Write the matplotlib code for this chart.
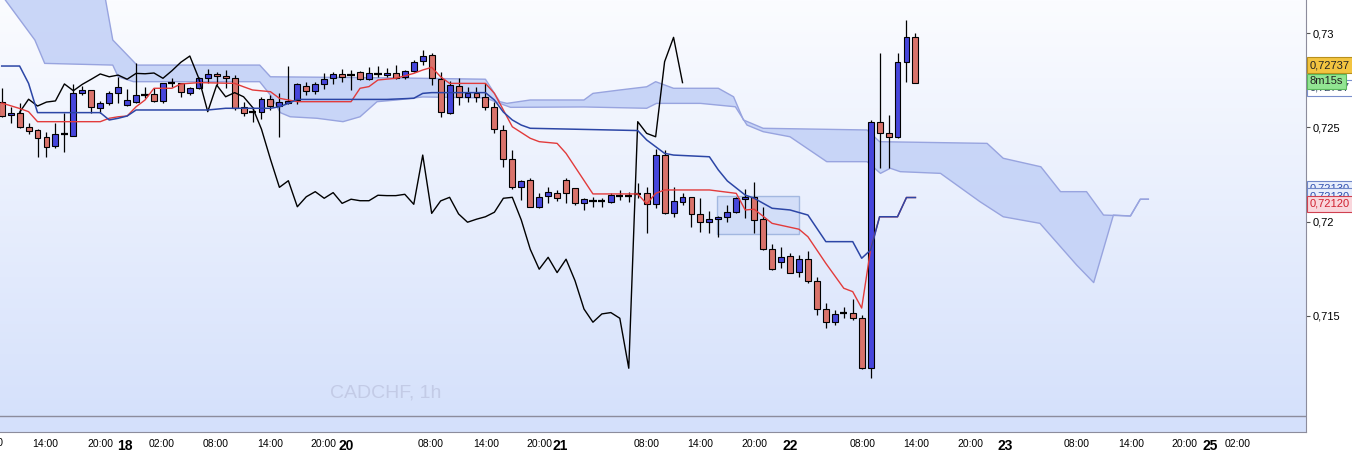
import numpy as np
import matplotlib
matplotlib.use("Agg")
import matplotlib.pyplot as plt
from matplotlib.colors import LinearSegmentedColormap
from matplotlib.patches import Rectangle

plt.rcParams['font.family'] = ['Liberation Sans', 'DejaVu Sans']

symbol = "CADCHF, 1h"

# hourly candles, oldest first
opens = [0.72634, 0.72564, 0.72574, 0.72500, 0.72486, 0.72450, 0.72401, 0.72465, 0.72456, 0.72680,
         0.72698, 0.72601, 0.72627, 0.72680, 0.72617, 0.72636, 0.72671, 0.72677, 0.72641, 0.72733,
         0.72733, 0.72684, 0.72707, 0.72760, 0.72783, 0.72772, 0.72760, 0.72609, 0.72580, 0.72580,
         0.72649, 0.72613, 0.72627, 0.72645, 0.72721, 0.72694, 0.72728, 0.72760, 0.72783, 0.72777,
         0.72795, 0.72755, 0.72784, 0.72776, 0.72788, 0.72765, 0.72800, 0.72852, 0.72883, 0.72755,
         0.72578, 0.72719, 0.72662, 0.72684, 0.72659, 0.72606, 0.72486, 0.72331, 0.72185, 0.72221,
         0.72076, 0.72138, 0.72154, 0.72221, 0.72177, 0.72097, 0.72111, 0.72111, 0.72103, 0.72138,
         0.72138, 0.72145, 0.72150, 0.72092, 0.72353, 0.72044, 0.72106, 0.72129, 0.72041, 0.71997,
         0.72013, 0.72026, 0.72053, 0.72120, 0.72129, 0.72013, 0.71854, 0.71785, 0.71818, 0.71732,
         0.71801, 0.71687, 0.71536, 0.71470, 0.71518, 0.71518, 0.71488, 0.71223, 0.72530, 0.72468,
         0.72447, 0.72848, 0.72977]
highs = [0.72709, 0.72609, 0.72629, 0.72521, 0.72490, 0.72477, 0.72521, 0.72578, 0.72730, 0.72719,
         0.72700, 0.72641, 0.72694, 0.72768, 0.72702, 0.72843, 0.72715, 0.72707, 0.72737, 0.72760,
         0.72737, 0.72715, 0.72768, 0.72808, 0.72795, 0.72804, 0.72777, 0.72636, 0.72609, 0.72662,
         0.72671, 0.72680, 0.72825, 0.72733, 0.72742, 0.72742, 0.72786, 0.72795, 0.72808, 0.72804,
         0.72798, 0.72821, 0.72825, 0.72813, 0.72830, 0.72804, 0.72857, 0.72910, 0.72892, 0.72795,
         0.72747, 0.72760, 0.72715, 0.72715, 0.72733, 0.72636, 0.72512, 0.72380, 0.72221, 0.72230,
         0.72150, 0.72182, 0.72168, 0.72230, 0.72180, 0.72124, 0.72132, 0.72124, 0.72150, 0.72168,
         0.72159, 0.72203, 0.72185, 0.72384, 0.72380, 0.72185, 0.72150, 0.72131, 0.72124, 0.72058,
         0.72028, 0.72088, 0.72132, 0.72172, 0.72212, 0.72079, 0.71882, 0.71864, 0.71836, 0.71823,
         0.71845, 0.71708, 0.71567, 0.71532, 0.71549, 0.71589, 0.71505, 0.72539, 0.72892, 0.72565,
         0.72892, 0.73069, 0.72998]
lows = [0.72555, 0.72521, 0.72497, 0.72463, 0.72341, 0.72341, 0.72389, 0.72371, 0.72454, 0.72671,
        0.72578, 0.72574, 0.72618, 0.72627, 0.72615, 0.72627, 0.72654, 0.72636, 0.72627, 0.72715,
        0.72662, 0.72671, 0.72702, 0.72733, 0.72724, 0.72707, 0.72592, 0.72560, 0.72530, 0.72543,
        0.72592, 0.72449, 0.72624, 0.72624, 0.72671, 0.72677, 0.72702, 0.72730, 0.72742, 0.72698,
        0.72751, 0.72751, 0.72768, 0.72768, 0.72755, 0.72755, 0.72795, 0.72830, 0.72724, 0.72556,
        0.72571, 0.72618, 0.72636, 0.72636, 0.72592, 0.72468, 0.72291, 0.72172, 0.72115, 0.72076,
        0.72071, 0.72097, 0.72111, 0.72097, 0.72088, 0.72062, 0.72079, 0.72079, 0.72097, 0.72115,
        0.72106, 0.72124, 0.71942, 0.72071, 0.72042, 0.72023, 0.72088, 0.71973, 0.71947, 0.71942,
        0.71920, 0.72000, 0.72048, 0.72018, 0.71938, 0.71852, 0.71746, 0.71753, 0.71726, 0.71708,
        0.71677, 0.71505, 0.71435, 0.71452, 0.71488, 0.71479, 0.71220, 0.71170, 0.72283, 0.72283,
        0.72445, 0.72742, 0.72733]
closes = [0.72560, 0.72578, 0.72500, 0.72482, 0.72445, 0.72397, 0.72463, 0.72465, 0.72680, 0.72698,
          0.72609, 0.72627, 0.72680, 0.72715, 0.72645, 0.72670, 0.72671, 0.72641, 0.72733, 0.72733,
          0.72686, 0.72707, 0.72760, 0.72783, 0.72772, 0.72760, 0.72601, 0.72578, 0.72580, 0.72649,
          0.72613, 0.72634, 0.72640, 0.72730, 0.72694, 0.72728, 0.72755, 0.72783, 0.72768, 0.72777,
          0.72755, 0.72786, 0.72784, 0.72788, 0.72760, 0.72800, 0.72845, 0.72878, 0.72760, 0.72583,
          0.72724, 0.72662, 0.72684, 0.72662, 0.72606, 0.72490, 0.72331, 0.72182, 0.72217, 0.72079,
          0.72132, 0.72159, 0.72124, 0.72154, 0.72097, 0.72119, 0.72111, 0.72111, 0.72140, 0.72138,
          0.72138, 0.72145, 0.72092, 0.72353, 0.72044, 0.72110, 0.72129, 0.72041, 0.71997, 0.72013,
          0.72026, 0.72050, 0.72124, 0.72129, 0.72009, 0.71854, 0.71748, 0.71811, 0.71730, 0.71801,
          0.71687, 0.71537, 0.71467, 0.71511, 0.71518, 0.71488, 0.71223, 0.72530, 0.72468, 0.72450,
          0.72848, 0.72977, 0.72737]

# ichimoku lines (bar index, price)
tenkan_x = [0, 2, 3, 4, 11, 12, 13, 14, 15, 16, 17, 19, 20, 22, 26, 27, 28, 30, 31, 32,
            33, 39, 40, 41, 42, 44, 46, 47, 48, 49, 50, 54, 55, 56, 57, 59, 60, 62, 63, 66,
            71, 72, 73, 74, 79, 82, 83, 84, 86, 89, 90, 92, 94, 95, 96, 97, 98, 100, 101, 102]
tenkan = [0.72629, 0.72600, 0.72583, 0.72530, 0.72530, 0.72548, 0.72556, 0.72560, 0.72609, 0.72645,
          0.72707, 0.72707, 0.72730, 0.72737, 0.72733, 0.72715, 0.72698, 0.72689, 0.72654, 0.72645,
          0.72636, 0.72636, 0.72707, 0.72716, 0.72751, 0.72760, 0.72786, 0.72804, 0.72818, 0.72768,
          0.72733, 0.72733, 0.72680, 0.72592, 0.72503, 0.72442, 0.72424, 0.72415, 0.72362, 0.72147,
          0.72147, 0.72094, 0.72150, 0.72168, 0.72168, 0.72150, 0.72062, 0.72066, 0.71991, 0.71960,
          0.71920, 0.71779, 0.71647, 0.71629, 0.71542, 0.71855, 0.72026, 0.72026, 0.72128, 0.72128]

kijun_x = [0, 2, 3, 4, 11, 12, 13, 14, 15, 23, 25, 30, 31, 32, 33, 43, 46, 47, 48, 54,
           55, 56, 57, 58, 59, 65, 71, 72, 74, 75, 79, 80, 81, 83, 84, 86, 88, 90, 92, 95,
           96, 97, 98, 100, 101, 102]
kijun = [0.72825, 0.72825, 0.72733, 0.72578, 0.72578, 0.72539, 0.72548, 0.72560, 0.72592, 0.72592,
         0.72601, 0.72601, 0.72609, 0.72627, 0.72648, 0.72648, 0.72654, 0.72680, 0.72684, 0.72684,
         0.72645, 0.72581, 0.72539, 0.72512, 0.72495, 0.72489, 0.72483, 0.72433, 0.72362, 0.72353,
         0.72344, 0.72274, 0.72216, 0.72141, 0.72124, 0.72071, 0.72062, 0.72035, 0.71894, 0.71894,
         0.71806, 0.71850, 0.72026, 0.72026, 0.72128, 0.72128]

cloud_up_x = [0, 11.3, 11.5, 12.4, 15.1, 28.8, 30.0, 44, 54, 55.6, 56.4, 59, 65, 66, 69, 72, 73,
              75, 80, 81.7, 82.8, 85, 96.6, 98, 110, 111.8, 116, 118.2, 121.1, 123, 126, 127.1, 128]
cloud_up = [0.73387, 0.73387, 0.73201, 0.72963, 0.72830, 0.72830, 0.72768, 0.72762, 0.72755, 0.72636,
            0.72627, 0.72645, 0.72645, 0.72680, 0.72698, 0.72715, 0.72742, 0.72707, 0.72707, 0.72662,
            0.72539, 0.72495, 0.72486, 0.72424, 0.72415, 0.72336, 0.72291, 0.72159, 0.72159, 0.72035,
            0.72030, 0.72119, 0.72119]
cloud_lo_x = [0, 3.7, 4.8, 12.4, 13, 14.7, 28.8, 30, 31.1, 32.2, 35.2, 38.1, 40, 41.9, 44.1, 47,
              54, 55.6, 56.8, 65, 72, 73.1, 78, 81.9, 83.2, 85, 88, 92.1, 96.6, 98.1, 99.2, 100.3,
              104.8, 109.2, 111.8, 115.9, 120, 121.9, 124.1, 126, 127.1, 128]
cloud_lo = [0.73201, 0.72963, 0.72839, 0.72830, 0.72768, 0.72742, 0.72742, 0.72671, 0.72578, 0.72556,
            0.72548, 0.72530, 0.72556, 0.72636, 0.72645, 0.72661, 0.72656, 0.72627, 0.72606, 0.72608,
            0.72601, 0.72627, 0.72627, 0.72609, 0.72512, 0.72477, 0.72450, 0.72318, 0.72318, 0.72256,
            0.72283, 0.72265, 0.72256, 0.72106, 0.72026, 0.71991, 0.71770, 0.71677, 0.72035, 0.72030,
            0.72119, 0.72119]

# chikou = close shifted back 26 bars, drawn from bar 2
lag = 26
chikou_start = 2

# highlighted box (bar range, price range)
box_x = [79.8, 89.05]
box_y = [0.71933, 0.72136]

# time axis labels
tick_pos = [4.83, 10.97, 13.77, 17.9, 23.9, 29.95, 35.9, 38.4, 47.9, 54.1, 60.0, 62.4, 72.0,
            77.96, 84.0, 88.0, 96.05, 102.07, 108.1, 112.0, 120.0, 126.1, 132.0, 134.9, 138.0]
tick_text = ["14:00", "20:00", "18", "02:00", "08:00", "14:00", "20:00", "20", "08:00", "14:00",
             "20:00", "21", "08:00", "14:00", "20:00", "22", "08:00", "14:00", "20:00", "23",
             "08:00", "14:00", "20:00", "25", "02:00"]

price_ticks = [0.715, 0.72, 0.725, 0.73]
price_tick_text = ["0,715", "0,72", "0,725", "0,73"]

fig = plt.figure(figsize=(13.52, 4.51), dpi=100)
ax = fig.add_axes([0, 19 / 451, 1306 / 1352, 432 / 451])

bg = LinearSegmentedColormap.from_list("bg", ["#fbfcff", "#d4e0fb"])
ax.imshow(np.linspace(0, 1, 256).reshape(-1, 1), cmap=bg, aspect="auto",
          extent=[0, 1, 0, 1], transform=ax.transAxes, origin="upper", zorder=0)

# cloud
ax.fill(np.concatenate([cloud_up_x, cloud_lo_x[::-1]]),
        np.concatenate([cloud_up, cloud_lo[::-1]]),
        color="#c4d2f7", alpha=0.9, lw=0, zorder=1)
ax.plot(cloud_up_x, cloud_up, color="#98a4df", lw=1, zorder=1.2)
ax.plot(cloud_lo_x, cloud_lo, color="#98a4df", lw=1, zorder=1.2)

ax.add_patch(Rectangle((box_x[0], box_y[0]), box_x[1] - box_x[0], box_y[1] - box_y[0],
                       facecolor="#c5d4f6", alpha=0.6, edgecolor="#7d9ad0", lw=1, zorder=1.5))

ax.text(0.295, 0.090, symbol, transform=ax.transAxes, ha="center", va="center",
        fontsize=14, color="#c3cbe6", zorder=1)

# candles
o, h, l, c = map(np.array, (opens, highs, lows, closes))
x = np.arange(len(o))
up = c > o
dn = c < o
flat = c == o
ax.vlines(x, l, h, color="black", lw=0.9, zorder=2)
ax.bar(x[up], (c - o)[up], bottom=o[up], width=0.66, color="#4646dc",
       edgecolor="black", lw=0.8, zorder=3)
ax.bar(x[dn], (o - c)[dn], bottom=c[dn], width=0.66, color="#d9736b",
       edgecolor="black", lw=0.8, zorder=3)
ax.hlines(c[flat], x[flat] - 0.4, x[flat] + 0.4, color="black", lw=1.6, zorder=3)

# ichimoku lines
ax.plot(x[chikou_start:len(c) - lag], c[chikou_start + lag:], color="black", lw=1, zorder=4)
ax.plot(tenkan_x, tenkan, color="#e23b3b", lw=1, zorder=4)
ax.plot(kijun_x, kijun, color="#2c46a6", lw=1.1, zorder=4.1)

ax.set_xlim(-0.19, 145.6)
ax.set_ylim(0.70885, 0.73175)

for s in ("top", "left"):
    ax.spines[s].set_visible(False)
for s in ("right", "bottom"):
    ax.spines[s].set_color("#8c8c9c")
ax.plot([0, 1], [0.037, 0.037], transform=ax.transAxes, color="#8c8c9c", lw=1, zorder=5)

ax.yaxis.tick_right()
ax.set_yticks(price_ticks, labels=price_tick_text)
ax.tick_params(axis="y", length=3, width=0.8, color="#555555", labelsize=8, pad=1.5)

ax.set_xticks(tick_pos, labels=tick_text)
ax.tick_params(axis="x", length=0, pad=5, labelsize=7.5)
for lab in ax.get_xticklabels():
    if ":" not in lab.get_text():
        lab.set_fontweight("bold")
        lab.set_fontsize(10)
ax.text(-1.19, -0.0255, "08:00", transform=ax.get_xaxis_transform(), ha="center",
        va="center", fontsize=7.5, clip_on=False)

# price tags on the right scale
yt = ax.get_yaxis_transform()
tags = [
    (0.72830, "0,72737", "#222222", "#f3c440", "#b8901c"),
    (0.72709, "0,72737", "#334466", "#ffffff", "#7a8fcc"),
    (0.72743, "8m15s", "#222222", "#92e592", "#5cb85c"),
    (0.72176, "0,72130", "#3050b0", "#e8eefc", "#6f86c8"),
    (0.72136, "0,72130", "#3050b0", "#e8eefc", "#6f86c8"),
    (0.72094, "0,72120", "#d02030", "#f9d6dc", "#d04050"),
]
for i, (py, txt, tc, fc, ec) in enumerate(tags):
    ax.text(1.003, py, txt, transform=yt, ha="left", va="center", fontsize=8, color=tc,
            clip_on=False, zorder=10 + i,
            bbox=dict(boxstyle="square,pad=0.25", facecolor=fc, edgecolor=ec, lw=0.8))

fig.savefig("out.png", dpi=100, facecolor="white")
